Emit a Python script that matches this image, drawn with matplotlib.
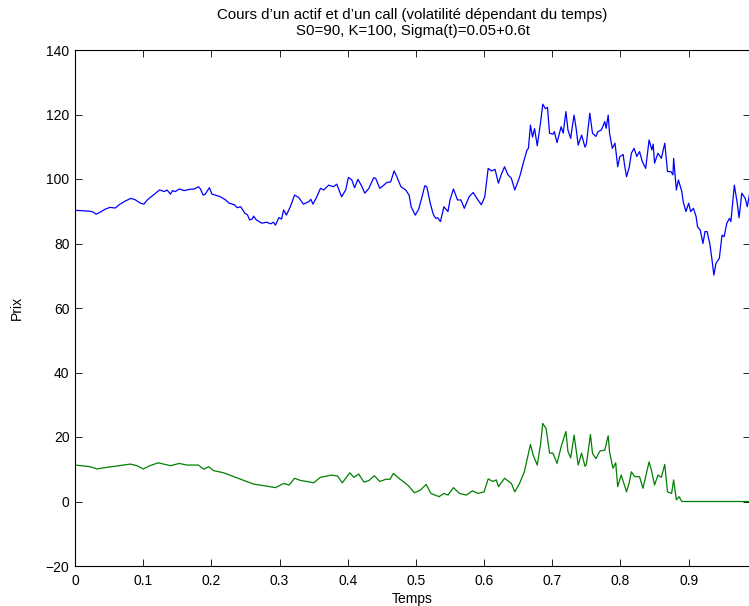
import matplotlib
matplotlib.use("Agg")
import matplotlib.pyplot as plt

# Asset price (blue)
t_asset = [0.000, 0.007, 0.022, 0.026, 0.031, 0.035, 0.044, 0.051, 0.059, 0.066,
           0.074, 0.082, 0.088, 0.096, 0.101, 0.106, 0.113, 0.121, 0.124, 0.131,
           0.135, 0.140, 0.143, 0.147, 0.153, 0.160, 0.168, 0.175, 0.181, 0.184,
           0.188, 0.191, 0.197, 0.201, 0.206, 0.213, 0.221, 0.226, 0.234, 0.238,
           0.243, 0.249, 0.253, 0.256, 0.260, 0.262, 0.266, 0.274, 0.281, 0.287,
           0.291, 0.294, 0.299, 0.303, 0.306, 0.310, 0.316, 0.322, 0.328, 0.335,
           0.343, 0.346, 0.349, 0.354, 0.360, 0.365, 0.372, 0.379, 0.384, 0.391,
           0.397, 0.401, 0.406, 0.410, 0.415, 0.421, 0.425, 0.431, 0.438, 0.441,
           0.447, 0.453, 0.457, 0.463, 0.468, 0.472, 0.478, 0.485, 0.490, 0.493,
           0.499, 0.504, 0.509, 0.513, 0.516, 0.521, 0.525, 0.526, 0.529, 0.532,
           0.536, 0.541, 0.547, 0.550, 0.555, 0.561, 0.566, 0.571, 0.578, 0.584,
           0.591, 0.596, 0.601, 0.606, 0.611, 0.616, 0.621, 0.625, 0.630, 0.635,
           0.640, 0.645, 0.650, 0.653, 0.658, 0.663, 0.665, 0.668, 0.671, 0.674,
           0.678, 0.683, 0.686, 0.690, 0.693, 0.696, 0.701, 0.703, 0.707, 0.713,
           0.716, 0.720, 0.723, 0.727, 0.729, 0.732, 0.735, 0.738, 0.743, 0.748,
           0.750, 0.755, 0.759, 0.764, 0.767, 0.772, 0.777, 0.779, 0.782, 0.784,
           0.788, 0.792, 0.796, 0.799, 0.804, 0.806, 0.809, 0.813, 0.816, 0.820,
           0.824, 0.828, 0.832, 0.837, 0.842, 0.846, 0.848, 0.850, 0.855, 0.860,
           0.865, 0.869, 0.874, 0.877, 0.878, 0.882, 0.885, 0.890, 0.892, 0.896,
           0.900, 0.903, 0.907, 0.911, 0.913, 0.917, 0.921, 0.924, 0.927, 0.931,
           0.934, 0.937, 0.940, 0.945, 0.949, 0.952, 0.956, 0.960, 0.962, 0.967,
           0.971, 0.974, 0.978, 0.983, 0.986, 0.990]
s_asset = [90.3, 90.2, 90.0, 89.8, 89.1, 89.5, 90.6, 91.2, 91.0, 92.2,
           93.2, 94.0, 93.6, 92.5, 92.2, 93.5, 94.7, 96.1, 96.6, 96.1,
           96.6, 95.3, 96.4, 96.1, 96.9, 96.4, 96.8, 96.9, 97.6, 96.9,
           95.0, 95.3, 97.3, 95.3, 95.0, 94.5, 93.5, 92.5, 92.0, 91.1,
           91.4, 89.4, 88.9, 87.3, 87.6, 88.5, 87.3, 86.3, 86.6, 86.1,
           86.6, 85.7, 88.0, 87.6, 90.4, 88.8, 91.5, 95.0, 94.3, 92.2,
           93.0, 93.7, 92.2, 94.2, 97.1, 96.6, 98.1, 97.6, 98.4, 94.5,
           96.6, 100.5, 99.7, 97.3, 99.9, 97.6, 95.6, 97.1, 100.4, 100.2,
           97.1, 98.1, 98.9, 99.1, 102.5, 100.7, 97.6, 96.6, 95.0, 91.4,
           88.8, 90.6, 94.5, 97.9, 97.6, 92.5, 89.4, 88.8, 87.8, 88.0,
           86.8, 91.4, 89.9, 93.5, 96.9, 93.5, 93.5, 90.9, 94.5, 95.8,
           93.5, 92.0, 94.5, 103.3, 102.5, 103.0, 98.7, 101.3, 103.8, 101.3,
           100.2, 96.6, 99.4, 101.3, 105.4, 109.0, 109.5, 116.7, 113.0, 115.6,
           110.3, 117.8, 123.2, 121.8, 122.2, 114.2, 113.9, 114.7, 111.3, 116.2,
           114.2, 120.9, 115.2, 112.6, 115.7, 119.8, 115.7, 110.5, 113.6, 109.9,
           110.8, 120.4, 114.2, 113.2, 114.7, 115.2, 117.8, 115.7, 119.8, 114.2,
           109.5, 111.1, 103.8, 106.9, 107.6, 104.3, 100.7, 103.8, 108.0, 109.5,
           107.0, 108.5, 105.4, 103.3, 112.1, 109.0, 110.8, 104.9, 108.0, 106.4,
           111.1, 102.3, 102.3, 101.3, 106.4, 96.6, 99.7, 96.1, 93.0, 89.9,
           92.5, 89.9, 90.9, 88.3, 85.2, 84.2, 80.0, 83.7, 83.7, 80.0,
           75.4, 70.2, 73.8, 75.4, 82.6, 82.1, 86.3, 87.8, 86.8, 98.1,
           92.9, 88.0, 95.6, 94.0, 91.4, 96.1]

# Call price (green)
t_call = [0.000, 0.022, 0.032, 0.047, 0.061, 0.081, 0.091, 0.100, 0.110, 0.122,
          0.130, 0.140, 0.153, 0.164, 0.181, 0.189, 0.196, 0.203, 0.218, 0.233,
          0.248, 0.262, 0.277, 0.294, 0.306, 0.314, 0.322, 0.331, 0.343, 0.350,
          0.360, 0.370, 0.375, 0.385, 0.392, 0.403, 0.409, 0.416, 0.424, 0.431,
          0.439, 0.447, 0.456, 0.462, 0.467, 0.475, 0.488, 0.498, 0.507, 0.515,
          0.522, 0.534, 0.541, 0.547, 0.555, 0.564, 0.574, 0.583, 0.591, 0.600,
          0.606, 0.613, 0.618, 0.621, 0.630, 0.640, 0.645, 0.652, 0.659, 0.663,
          0.668, 0.672, 0.678, 0.683, 0.686, 0.691, 0.696, 0.701, 0.707, 0.713,
          0.720, 0.723, 0.727, 0.732, 0.738, 0.743, 0.748, 0.750, 0.756, 0.759,
          0.764, 0.770, 0.777, 0.782, 0.784, 0.789, 0.793, 0.796, 0.801, 0.809,
          0.813, 0.816, 0.821, 0.828, 0.833, 0.842, 0.846, 0.850, 0.855, 0.860,
          0.865, 0.869, 0.875, 0.878, 0.882, 0.886, 0.890, 0.990]
c_call = [11.3, 10.8, 10.1, 10.6, 11.0, 11.6, 11.1, 10.1, 11.1, 12.0,
          11.6, 11.1, 11.8, 11.3, 11.3, 10.0, 10.8, 9.6, 8.9, 7.7,
          6.5, 5.4, 4.9, 4.3, 5.6, 5.1, 7.2, 6.5, 6.1, 5.8,
          7.5, 7.9, 8.2, 7.9, 5.8, 8.9, 7.5, 8.5, 6.0, 6.5,
          8.0, 6.2, 6.9, 6.9, 8.7, 7.2, 5.1, 2.7, 3.6, 5.3,
          2.5, 1.5, 2.5, 2.0, 4.3, 2.5, 2.0, 3.3, 2.5, 3.0,
          7.0, 6.2, 6.7, 4.6, 7.2, 5.6, 3.0, 5.6, 9.2, 13.0,
          17.7, 14.4, 11.3, 18.0, 24.2, 22.6, 15.0, 15.0, 11.8, 17.0,
          21.7, 15.5, 13.5, 20.6, 11.3, 15.0, 10.9, 11.5, 20.8, 14.9,
          13.3, 15.7, 15.9, 20.4, 15.4, 10.3, 12.0, 4.6, 8.2, 3.0,
          6.0, 9.2, 7.7, 7.7, 4.1, 12.3, 9.2, 5.1, 8.2, 7.5,
          11.5, 3.0, 2.5, 6.7, 0.5, 1.5, 0.0, 0.0]

x_ticks = [0, 0.1, 0.2, 0.3, 0.4, 0.5, 0.6, 0.7, 0.8, 0.9]
x_ticklabels = ["0", "0.1", "0.2", "0.3", "0.4", "0.5", "0.6", "0.7", "0.8", "0.9"]
y_ticks = [-20, 0, 20, 40, 60, 80, 100, 120, 140]

plt.rcParams['font.family'] = ['Liberation Sans', 'DejaVu Sans']
fig = plt.figure(figsize=(7.49, 6.06), dpi=100)
ax = fig.add_axes([75/749, 40/606, 675/749, 516/606])

ax.plot(t_asset, s_asset, color=(0, 0, 1), lw=0.9)
ax.plot(t_call, c_call, color=(0, 0.5, 0), lw=0.9)

ax.set_xlim(0, 0.99)
ax.set_ylim(-20, 140)
ax.set_xticks(x_ticks)
ax.set_xticklabels(x_ticklabels)
ax.set_yticks(y_ticks)
ax.tick_params(direction='in', length=5, width=0.6, top=True, right=True,
               labelsize=10, pad=4, colors='black')
ax.tick_params(axis='x', pad=6)
for sp in ax.spines.values():
    sp.set_linewidth(0.8)

ax.set_xlabel("Temps", fontsize=10, labelpad=3)
ax.set_ylabel("Prix", fontsize=10, labelpad=16)
ax.set_title("Cours d’un actif et d’un call (volatilité dépendant du temps)\n"
             "S0=90, K=100, Sigma(t)=0.05+0.6t", fontsize=10.8, pad=11, linespacing=1.15)

fig.savefig("out.png", dpi=100)
